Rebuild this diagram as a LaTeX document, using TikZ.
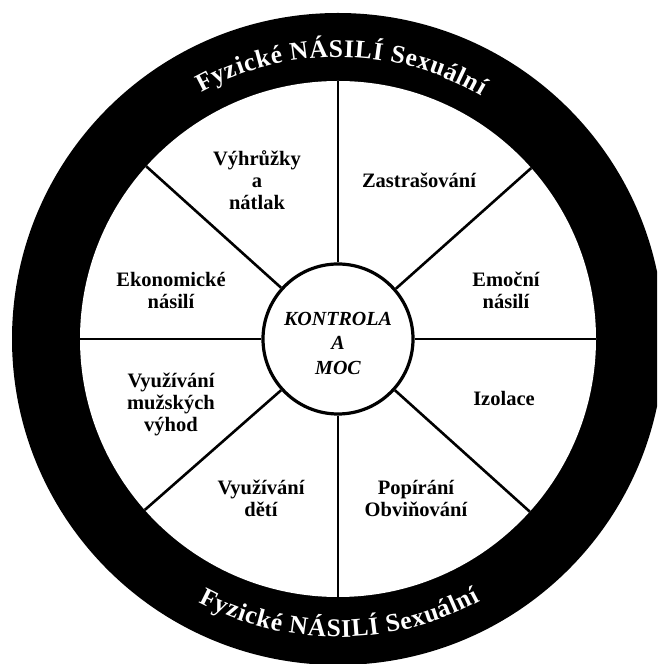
\documentclass[tikz,border=0pt]{standalone}
\usepackage{fontspec}
\setmainfont{Liberation Serif}
\usetikzlibrary{decorations.text}
\newcommand\ringfont{\bfseries\fontsize{25.5}{25.5}\selectfont}
\begin{document}
\begin{tikzpicture}[x=1pt,y=1pt,
  lbl/.style={font=\bfseries\fontsize{20.5}{22}\selectfont, align=center, inner sep=0pt},
  hubtxt/.style={font=\bfseries\itshape\fontsize{20}{24.5}\selectfont, align=center, inner sep=0pt},
  spoke/.style={line width=2.6pt},
  ringtext/.style={decorate, decoration={text along path, text color=white, text align={fit to path}, text={|\ringfont|#1}}}]
\useasboundingbox (0,0) rectangle (657,664);
\clip (0,0) rectangle (657,664);
\coordinate (C) at (338,325);
% ring
\fill[black] (C) circle[radius=326];
\fill[white] (C) circle[radius=258];
% ring texts
\path[ringtext={Fyzické NÁSILÍ Sexuální}] ([shift={(119:282)}]C) arc[start angle=119, end angle=59.5, radius=282];
\path[ringtext={Fyzické NÁSILÍ Sexuální}] ([shift={(242:298)}]C) arc[start angle=242, end angle=298.5, radius=298];
% hub
\node[circle, draw, line width=3.2pt, fill=white, minimum size=150pt, inner sep=0pt] (hub) at (C) {};
% rim points
\path (C) ++(90:258) coordinate (r1);
\path (C) ++(41.5:258) coordinate (r2);
\path (C) ++(0:258) coordinate (r3);
\path (C) ++(-42:258) coordinate (r4);
\path (C) ++(-90:258) coordinate (r5);
\path (C) ++(-138.5:258) coordinate (r6);
\path (C) ++(180:258) coordinate (r7);
\path (C) ++(138:258) coordinate (r8);
% spokes
\draw[spoke] (hub.90) -- (r1);
\draw[spoke] (hub.41.5) -- (r2);
\draw[spoke] (hub.0) -- (r3);
\draw[spoke] (hub.-42) -- (r4);
\draw[spoke] (hub.-90) -- (r5);
\draw[spoke] (hub.-138.5) -- (r6);
\draw[spoke] (hub.180) -- (r7);
\draw[spoke] (hub.138) -- (r8);
% hub text
\node[hubtxt] (kontrola) at (338,321) {KONTROLA\\A\\MOC};
% sector labels
\node[lbl] (vyhruzky) at (257,484) {Výhrůžky\\a\\nátlak};
\node[lbl] (zastr) at (419,484) {Zastrašování};
\node[lbl] (ekon) at (171,374) {Ekonomické\\násilí};
\node[lbl] (emoc) at (506,374) {Emoční\\násilí};
\node[lbl] (muz) at (171,260) {Využívání\\mužských\\výhod};
\node[lbl] (izol) at (504,266) {Izolace};
\node[lbl] (deti) at (261,166) {Využívání\\dětí};
\node[lbl] (popir) at (416,166) {Popírání\\Obviňování};
\end{tikzpicture}
\end{document}
